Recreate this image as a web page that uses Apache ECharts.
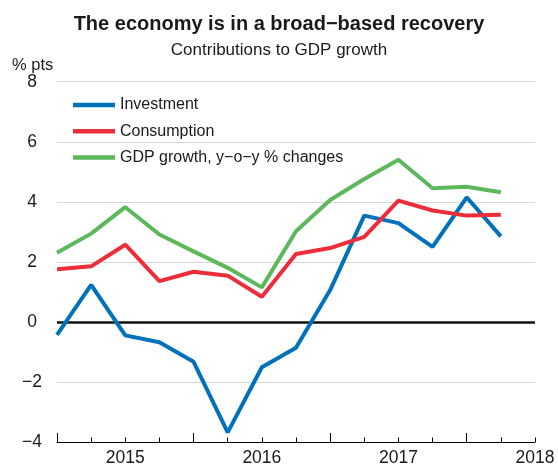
<!DOCTYPE html>
<html>
<head>
<meta charset="utf-8">
<script src="https://cdn.jsdelivr.net/npm/echarts@6/dist/echarts.min.js"></script>
<style>
html,body{margin:0;padding:0;background:#fff;}
#chart{width:558px;height:467px;}
</style>
</head>
<body>
<div id="chart"></div>
<script>
var quarters = ['2015Q1','2015Q2','2015Q3','2015Q4','2016Q1','2016Q2','2016Q3','2016Q4','2017Q1','2017Q2','2017Q3','2017Q4','2018Q1','2018Q2','2018Q3'];
var yearLabels = {'2015Q3':'2015','2016Q3':'2016','2017Q3':'2017','2018Q3':'2018'};
var investment = [-0.43, 1.23, -0.45, -0.68, -1.33, -3.68, -1.51, -0.86, 1.06, 3.54, 3.29, 2.50, 4.15, 2.85];
var consumption = [1.75, 1.85, 2.57, 1.36, 1.67, 1.54, 0.84, 2.26, 2.46, 2.83, 4.04, 3.71, 3.54, 3.57];
var gdpGrowth = [2.30, 2.94, 3.82, 2.91, 2.35, 1.80, 1.15, 3.02, 4.06, 4.76, 5.40, 4.45, 4.50, 4.32];
var yTicks = {min: -4, max: 8, interval: 2};

var FONT = 'Liberation Sans, Arial, Helvetica, sans-serif';
var chart = echarts.init(document.getElementById('chart'), null, {renderer: 'canvas'});
chart.setOption({
  backgroundColor: '#fff',
  animation: false,
  textStyle: {fontFamily: FONT},
  title: {
    text: 'The economy is in a broad\u2212based recovery',
    subtext: 'Contributions to GDP growth',
    left: 'center',
    top: 9,
    itemGap: 8,
    textStyle: {fontFamily: FONT, fontSize: 20, fontWeight: 'bold', color: '#1a1a1a'},
    subtextStyle: {fontFamily: FONT, fontSize: 17, color: '#1a1a1a'}
  },
  graphic: [{
    type: 'text', left: 12, top: 57,
    style: {text: '% pts', font: '16.5px ' + FONT, fill: '#1a1a1a'}
  }],
  legend: {
    orient: 'vertical',
    left: 68, top: 91,
    icon: 'rect',
    itemWidth: 42, itemHeight: 4.5,
    itemGap: 8.3,
    textStyle: {fontFamily: FONT, fontSize: 16, color: '#1a1a1a', lineHeight: 18, padding: [0,0,0,0]},
    data: ['Investment', 'Consumption', 'GDP growth, y\u2212o\u2212y % changes']
  },
  grid: {left: 57, right: 23, top: 81.7, bottom: 22.7, containLabel: false},
  xAxis: [{
    type: 'category',
    data: quarters,
    boundaryGap: false,
    axisLine: {show: true, onZero: false, lineStyle: {color: '#000', width: 1}},
    axisTick: {show: true, inside: true, length: 4.5, interval: 0, lineStyle: {color: '#000', width: 1}},
    axisLabel: {
      show: true,
      interval: function (i, v) { return !!yearLabels[v]; },
      formatter: function (v) { return yearLabels[v] || ''; },
      fontFamily: FONT, fontSize: 17.5, color: '#1a1a1a', margin: 7
    },
    splitLine: {show: false}
  }, {
    type: 'category',
    data: quarters,
    boundaryGap: false,
    position: 'bottom',
    axisLine: {show: false, onZero: false},
    axisTick: {show: true, inside: true, length: 9, interval: 3, lineStyle: {color: '#000', width: 1}},
    axisLabel: {show: false},
    splitLine: {show: false}
  }],
  yAxis: {
    type: 'value',
    min: yTicks.min, max: yTicks.max, interval: yTicks.interval,
    axisLine: {show: false},
    axisTick: {show: false},
    axisLabel: {
      fontFamily: FONT, fontSize: 17.5, color: '#1a1a1a', align: 'center', margin: 25,
      formatter: function (v) { return v < 0 ? '\u2212' + Math.abs(v) : String(v); }
    },
    splitLine: {show: true, lineStyle: {color: '#d6d6d6', width: 1.2}}
  },
  series: [{
    name: 'Investment', type: 'line', data: investment,
    showSymbol: false, symbol: 'none',
    lineStyle: {color: '#0072BB', width: 4},
    itemStyle: {color: '#0072BB'},
    z: 3,
    markLine: {
      silent: true, symbol: 'none', label: {show: false},
      lineStyle: {color: '#111', width: 2.5, type: 'solid'},
      data: [{yAxis: 0}],
      z: 2
    }
  }, {
    name: 'Consumption', type: 'line', data: consumption,
    showSymbol: false, symbol: 'none',
    lineStyle: {color: '#EE2D3B', width: 4},
    itemStyle: {color: '#EE2D3B'},
    z: 4
  }, {
    name: 'GDP growth, y\u2212o\u2212y % changes', type: 'line', data: gdpGrowth,
    showSymbol: false, symbol: 'none',
    lineStyle: {color: '#5DB85B', width: 4},
    itemStyle: {color: '#5DB85B'},
    z: 3
  }]
});
</script>
</body>
</html>
